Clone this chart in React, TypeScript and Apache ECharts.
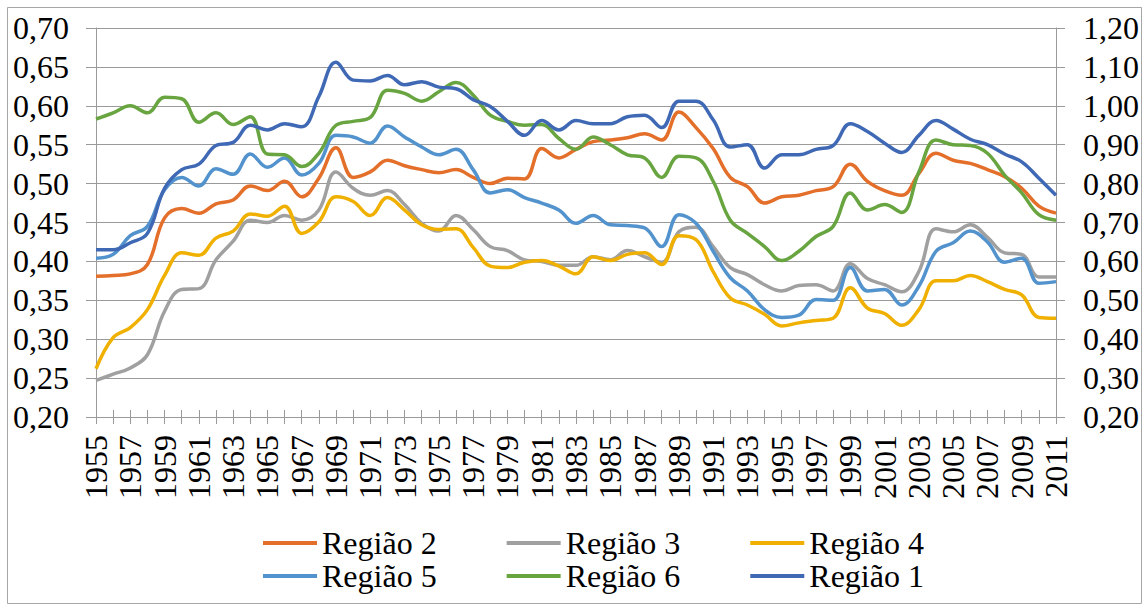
import React, { useEffect, useRef } from "react";
import * as echarts from "echarts";

const years = [
  "1955", "1956", "1957", "1958", "1959", "1960", "1961", "1962", "1963", "1964",
  "1965", "1966", "1967", "1968", "1969", "1970", "1971", "1972", "1973", "1974",
  "1975", "1976", "1977", "1978", "1979", "1980", "1981", "1982", "1983", "1984",
  "1985", "1986", "1987", "1988", "1989", "1990", "1991", "1992", "1993", "1994",
  "1995", "1996", "1997", "1998", "1999", "2000", "2001", "2002", "2003", "2004",
  "2005", "2006", "2007", "2008", "2009", "2010", "2011",
];

const regiao2 = [
  0.381, 0.382, 0.384, 0.396, 0.456, 0.468, 0.462, 0.474, 0.479, 0.497,
  0.491, 0.503, 0.483, 0.507, 0.546, 0.508, 0.515, 0.530, 0.523, 0.518,
  0.514, 0.518, 0.508, 0.500, 0.507, 0.506, 0.545, 0.533, 0.544, 0.554,
  0.556, 0.559, 0.564, 0.556, 0.592, 0.572, 0.545, 0.508, 0.496, 0.475,
  0.483, 0.485, 0.491, 0.496, 0.525, 0.503, 0.491, 0.485, 0.513, 0.539,
  0.530, 0.526, 0.518, 0.509, 0.494, 0.471, 0.462,
];

const regiao3 = [
  0.247, 0.255, 0.263, 0.280, 0.336, 0.364, 0.365, 0.402, 0.426, 0.453,
  0.450, 0.459, 0.453, 0.466, 0.515, 0.494, 0.485, 0.491, 0.473, 0.449,
  0.439, 0.459, 0.441, 0.419, 0.414, 0.402, 0.400, 0.395, 0.395, 0.406,
  0.402, 0.414, 0.406, 0.399, 0.438, 0.444, 0.419, 0.392, 0.383, 0.370,
  0.362, 0.369, 0.370, 0.362, 0.397, 0.378, 0.370, 0.361, 0.387, 0.442,
  0.438, 0.447, 0.431, 0.411, 0.409, 0.380, 0.380,
];

const regiao4 = [
  0.262, 0.302, 0.315, 0.338, 0.382, 0.411, 0.408, 0.430, 0.439, 0.461,
  0.458, 0.471, 0.436, 0.451, 0.483, 0.477, 0.459, 0.482, 0.466, 0.447,
  0.441, 0.442, 0.418, 0.394, 0.392, 0.399, 0.401, 0.394, 0.384, 0.406,
  0.401, 0.409, 0.411, 0.396, 0.433, 0.428, 0.387, 0.353, 0.344, 0.332,
  0.317, 0.321, 0.324, 0.327, 0.366, 0.340, 0.333, 0.318, 0.338, 0.375,
  0.375, 0.382, 0.374, 0.364, 0.357, 0.328, 0.327,
];

const regiao5 = [
  0.404, 0.409, 0.433, 0.445, 0.492, 0.508, 0.497, 0.519, 0.512, 0.538,
  0.521, 0.533, 0.511, 0.526, 0.562, 0.560, 0.552, 0.574, 0.560, 0.547,
  0.537, 0.544, 0.518, 0.488, 0.492, 0.482, 0.475, 0.466, 0.449, 0.459,
  0.447, 0.446, 0.443, 0.419, 0.460, 0.449, 0.413, 0.379, 0.362, 0.338,
  0.328, 0.331, 0.351, 0.350, 0.392, 0.362, 0.364, 0.344, 0.368, 0.413,
  0.424, 0.439, 0.425, 0.399, 0.404, 0.372, 0.374,
];

const regiao6 = [
  0.583, 0.591, 0.600, 0.591, 0.611, 0.609, 0.579, 0.591, 0.576, 0.586,
  0.538, 0.537, 0.522, 0.539, 0.575, 0.580, 0.585, 0.620, 0.616, 0.606,
  0.618, 0.630, 0.614, 0.588, 0.580, 0.575, 0.576, 0.558, 0.544, 0.560,
  0.550, 0.537, 0.533, 0.508, 0.535, 0.533, 0.503, 0.453, 0.436, 0.419,
  0.401, 0.413, 0.432, 0.445, 0.488, 0.466, 0.473, 0.463, 0.515, 0.556,
  0.550, 0.549, 0.539, 0.511, 0.488, 0.460, 0.453,
];

// Região 1 is plotted against the secondary (right) axis
const regiao1 = [
  0.630, 0.630, 0.648, 0.672, 0.788, 0.836, 0.850, 0.898, 0.906, 0.950,
  0.938, 0.954, 0.946, 1.024, 1.112, 1.066, 1.064, 1.078, 1.054, 1.062,
  1.048, 1.044, 1.016, 0.998, 0.960, 0.924, 0.962, 0.938, 0.962, 0.954,
  0.954, 0.972, 0.976, 0.944, 1.012, 1.012, 0.964, 0.894, 0.900, 0.840,
  0.874, 0.874, 0.888, 0.898, 0.954, 0.934, 0.904, 0.880, 0.924, 0.962,
  0.940, 0.914, 0.900, 0.876, 0.856, 0.814, 0.770,
];

const FONT = "Liberation Serif";
const GRID_COLOR = "#9a9a9a";

const fmt = (v: number) => v.toFixed(2).replace(".", ",");

export default function App() {
  const ref = useRef<HTMLDivElement>(null);

  useEffect(() => {
    if (!ref.current) return;
    const chart = echarts.init(ref.current, null, { renderer: "svg" });

    const mkSeries = (name: string, data: number[], color: string, yIdx = 0) => ({
      name,
      type: "line",
      data,
      yAxisIndex: yIdx,
      xAxisIndex: 0,
      smooth: 0.4,
      symbol: "none",
      showSymbol: false,
      lineStyle: { color, width: 3.5 },
      itemStyle: { color },
    });

    const legendCommon = {
      left: 263,
      padding: 0,
      itemGap: 70,
      itemWidth: 54,
      itemHeight: 4,
      icon: "rect",
      textStyle: { fontFamily: FONT, fontSize: 32, color: "#000" },
    };

    chart.setOption({
      animation: false,
      backgroundColor: "#ffffff",
      textStyle: { fontFamily: FONT },
      grid: { left: 96, right: 89, top: 28, bottom: 191, containLabel: false },
      graphic: [
        {
          type: "rect",
          shape: { x: 7.5, y: 7.5, width: 1134, height: 596 },
          style: { fill: "none", stroke: "#a6a6a6", lineWidth: 1 },
          silent: true,
          z: -1,
        },
      ],
      legend: [
        { ...legendCommon, top: 527, data: ["Região 2", "Região 3", "Região 4"] },
        { ...legendCommon, top: 560, data: ["Região 5", "Região 6", "Região 1"] },
      ],
      xAxis: [
        {
          type: "category",
          data: years,
          boundaryGap: false,
          axisLine: { show: true, lineStyle: { color: GRID_COLOR, width: 1 } },
          axisTick: { show: true, interval: 0, length: 7, lineStyle: { color: GRID_COLOR } },
          axisLabel: {
            interval: 1,
            rotate: 90,
            margin: 18,
            fontFamily: FONT,
            fontSize: 32,
            color: "#000",
          },
          splitLine: { show: false },
        },
        {
          type: "category",
          data: years,
          boundaryGap: false,
          position: "bottom",
          axisLine: { show: false },
          axisTick: { show: true, inside: true, interval: 0, length: 7, lineStyle: { color: GRID_COLOR } },
          axisLabel: { show: false },
          splitLine: { show: false },
        },
      ],
      yAxis: [
        {
          type: "value",
          min: 0.2,
          max: 0.7,
          interval: 0.05,
          position: "left",
          axisLine: { show: true, lineStyle: { color: GRID_COLOR, width: 1 } },
          axisTick: { show: true, length: 10, lineStyle: { color: GRID_COLOR } },
          axisLabel: {
            formatter: fmt,
            margin: 27,
            fontFamily: FONT,
            fontSize: 32,
            color: "#000",
          },
          splitLine: { show: true, lineStyle: { color: GRID_COLOR, width: 1 } },
        },
        {
          type: "value",
          min: 0.2,
          max: 1.2,
          interval: 0.1,
          position: "right",
          axisLine: { show: true, lineStyle: { color: GRID_COLOR, width: 1 } },
          axisTick: { show: true, length: 9, lineStyle: { color: GRID_COLOR } },
          axisLabel: {
            formatter: fmt,
            margin: 27,
            fontFamily: FONT,
            fontSize: 32,
            color: "#000",
          },
          splitLine: { show: false },
        },
      ],
      series: [
        mkSeries("Região 2", regiao2, "#E46F2A"),
        mkSeries("Região 3", regiao3, "#A0A0A0"),
        mkSeries("Região 4", regiao4, "#F0B000"),
        mkSeries("Região 5", regiao5, "#5292CD"),
        mkSeries("Região 6", regiao6, "#68A540"),
        mkSeries("Região 1", regiao1, "#3F68B5", 1),
      ],
    });

    return () => chart.dispose();
  }, []);

  return (
    <div
      ref={ref}
      style={{ position: "fixed", left: 0, top: 0, width: 1145, height: 608, background: "#fff" }}
    />
  );
}
